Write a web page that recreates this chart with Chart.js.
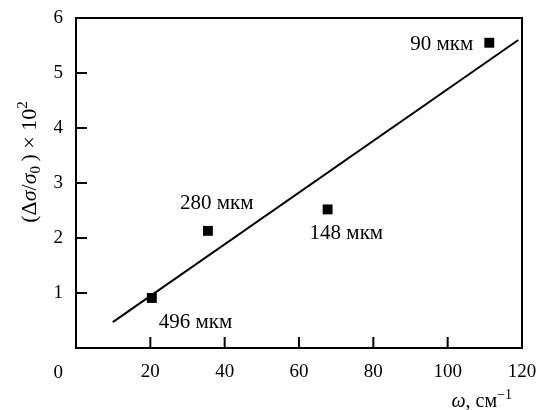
<!DOCTYPE html>
<html>
<head>
<meta charset="utf-8">
<script src="https://cdn.jsdelivr.net/npm/chart.js@4"></script>
<style>
  body { margin: 0; background: #fff; }
  #wrap { width: 547px; height: 410px; }
</style>
</head>
<body>
<div id="wrap"><canvas id="myChart"></canvas></div>
<script>
// measured points: omega (cm^-1) vs (delta sigma / sigma0) x 100
const omega = [20.4, 35.5, 67.7, 111.2]
const dsigma = [0.91, 2.13, 2.52, 5.55]
const sampleLabels = ['496 мкм', '280 мкм', '148 мкм', '90 мкм']
// fitted straight line, its two ends
const fitX = [9.9, 119]
const fitY = [0.47, 5.6]
const xTicks = [0, 20, 40, 60, 80, 100, 120]
const yTicks = [0, 1, 2, 3, 4, 5, 6]

const FONT = '"Liberation Serif", "Times New Roman", serif'
const FS = 19

// where each sample label sits relative to its point (px)
const labelPlace = [
  { dx: 7, dy: 25, align: 'left' },
  { dx: -28, dy: -27, align: 'left' },
  { dx: -18, dy: 24, align: 'left' },
  { dx: -16, dy: 2, align: 'right' }
]

function runFont(r) {
  return (r.it ? 'italic ' : '') + (r.size || FS) + 'px ' + FONT
}
function runsWidth(ctx, runs) {
  let w = 0
  runs.forEach(r => { ctx.font = runFont(r); w += ctx.measureText(r.t).width })
  return w
}
function drawRuns(ctx, runs, x, y) {
  let cx = x
  runs.forEach(r => {
    ctx.font = runFont(r)
    ctx.fillText(r.t, cx, y + (r.dy || 0))
    cx += ctx.measureText(r.t).width
  })
}

const yTitle = [
  { t: '(', size: 22 }, { t: 'Δ', size: 22 }, { t: 'σ', it: 1, size: 22 }, { t: '/', size: 22 },
  { t: 'σ', it: 1, size: 22 }, { t: '0', size: 15, dy: 4 }, { t: '\u2009)', size: 22 },
  { t: ' × 10', size: 22 }, { t: '2', size: 15, dy: -9 }
]
const xTitle = [{ t: 'ω', it: 1, size: 20 }, { t: ', см', size: 20 }, { t: '−1', size: 14, dy: -8 }]

const decor = {
  id: 'decor',
  afterDraw(chart) {
    const ctx = chart.ctx
    const a = chart.chartArea
    const xs = chart.scales.x, ys = chart.scales.y
    ctx.save()
    ctx.strokeStyle = '#000'
    ctx.fillStyle = '#000'
    ctx.lineWidth = 2
    ctx.strokeRect(a.left, a.top, a.right - a.left, a.bottom - a.top)
    // ticks point inward
    ctx.beginPath()
    xTicks.slice(1, -1).forEach(v => {
      const px = xs.getPixelForValue(v)
      ctx.moveTo(px, a.bottom); ctx.lineTo(px, a.bottom - 11)
    })
    yTicks.slice(1, -1).forEach(v => {
      const py = ys.getPixelForValue(v)
      ctx.moveTo(a.left, py); ctx.lineTo(a.left + 11, py)
    })
    ctx.stroke()

    // shared origin label
    ctx.font = FS + 'px ' + FONT
    ctx.textAlign = 'right'
    ctx.textBaseline = 'middle'
    ctx.fillText('0', a.left - 13, a.bottom + 25)

    // sample labels
    ctx.font = '21px ' + FONT
    sampleLabels.forEach((s, i) => {
      const p = labelPlace[i]
      ctx.textAlign = p.align
      ctx.fillText(s, xs.getPixelForValue(omega[i]) + p.dx, ys.getPixelForValue(dsigma[i]) + p.dy)
    })

    // axis titles
    ctx.textAlign = 'left'
    ctx.textBaseline = 'alphabetic'
    const wx = runsWidth(ctx, xTitle)
    drawRuns(ctx, xTitle, a.right - 10 - wx, 407)

    const wy = runsWidth(ctx, yTitle)
    ctx.translate(36, 162)
    ctx.rotate(-Math.PI / 2)
    drawRuns(ctx, yTitle, -wy / 2, 0)
    ctx.restore()
  }
}

Chart.defaults.font.family = FONT
Chart.defaults.font.size = FS
Chart.defaults.color = '#000'

const ctx = document.getElementById('myChart').getContext('2d')
const chart = new Chart(ctx, {
  type: 'scatter',
  data: {
    datasets: [{
      data: omega.map((x, i) => ({ x: x, y: dsigma[i] })),
      pointStyle: 'rect',
      pointRadius: 7,
      backgroundColor: '#000',
      borderColor: '#000',
      borderWidth: 0
    }, {
      data: fitX.map((x, i) => ({ x: x, y: fitY[i] })),
      showLine: true,
      pointRadius: 0,
      borderColor: '#000',
      borderWidth: 2
    }]
  },
  options: {
    responsive: true,
    maintainAspectRatio: false,
    animation: false,
    layout: { padding: { top: 18, right: 25, left: 0, bottom: 0 } },
    plugins: { legend: { display: false }, tooltip: { enabled: false } },
    scales: {
      x: {
        type: 'linear', min: 0, max: 120,
        afterBuildTicks: s => { s.ticks = xTicks.map(v => ({ value: v })) },
        afterFit: s => { s.height = 62; s.paddingLeft = 0; s.paddingRight = 0 },
        grid: { display: false, drawTicks: false },
        border: { display: false },
        ticks: { padding: 13, maxRotation: 0, callback: v => v === 0 ? '' : v }
      },
      y: {
        type: 'linear', min: 0, max: 6,
        afterBuildTicks: s => { s.ticks = yTicks.map(v => ({ value: v })) },
        afterFit: s => { s.width = 76; s.paddingTop = 0; s.paddingBottom = 0 },
        grid: { display: false, drawTicks: false },
        border: { display: false },
        ticks: { padding: 13, callback: v => v === 0 ? '' : v }
      }
    }
  },
  plugins: [decor]
})
</script>
</body>
</html>
